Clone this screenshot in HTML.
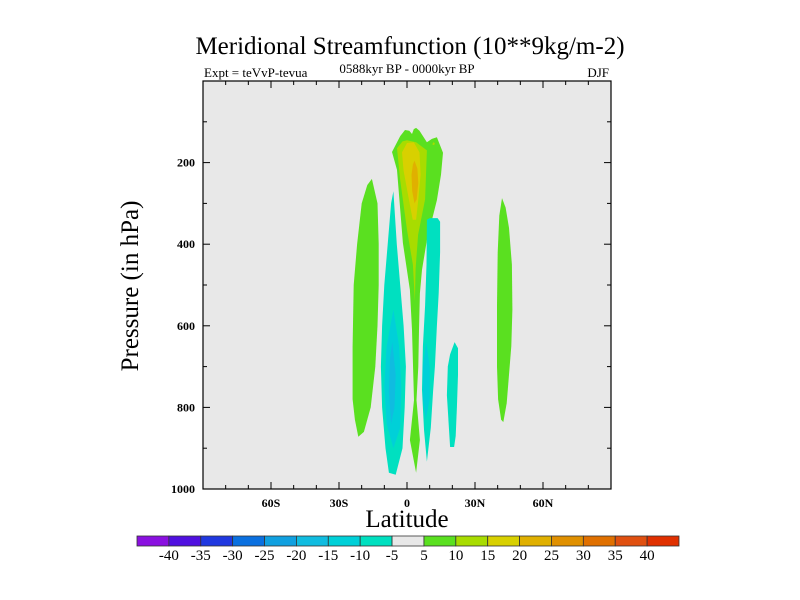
<!DOCTYPE html>
<html><head><meta charset="utf-8"><style>
body{margin:0;background:#fff;}
svg{display:block;font-family:"Liberation Serif",serif;}
</style></head><body>
<svg id="chart" width="800" height="600" viewBox="0 0 800 600" xmlns="http://www.w3.org/2000/svg">
<text x="410" y="54" text-anchor="middle" font-size="25">Meridional Streamfunction (10**9kg/m-2)</text>
<text x="204" y="77" font-size="13">Expt = teVvP-tevua</text>
<text x="407" y="73" text-anchor="middle" font-size="13">0588kyr BP - 0000kyr BP</text>
<text x="609" y="77" text-anchor="end" font-size="13">DJF</text>
<rect x="203" y="81" width="408" height="408" fill="#e8e8e8"/>
<g id="contours"></g>
<rect x="203" y="81" width="408" height="408" fill="none" stroke="#000" stroke-width="1.2"/>
<g id="axes"></g>
<text transform="translate(138,286) rotate(-90)" text-anchor="middle" font-size="25">Pressure (in hPa)</text>
<text x="407" y="527" text-anchor="middle" font-size="25">Latitude</text>
<g id="colorbar"></g>
</svg>
<script>
var levels=[-45,-40,-35,-30,-25,-20,-15,-10,-5,5,10,15,20,25,30,35,40,45];
var levelLabels=[-40,-35,-30,-25,-20,-15,-10,-5,5,10,15,20,25,30,35,40];
var levelColors=["#8a10e0","#5010e0","#2038e0","#0a70e0","#10a0e0","#10bce0","#00d0d8","#00e0c0","#e8e8e8","#5ae020","#a8dc00","#d8d000","#e0b000","#e09000","#e07000","#e05010","#e03000"];
var latTicks=[-60,-30,0,30,60];
var latTickLabels=["60S","30S","0","30N","60N"];
var presTicks=[200,400,600,800,1000];
// contour regions: value (for colour class) and outline in [lat, hPa]
var regionValues=[7,7,-7,-12,-17,7,12,17,22,-7,-12,-7,7];
var regionShapes=[
[[-15.5,240],[-13,300],[-12.5,400],[-12.5,500],[-13,600],[-14,700],[-16,800],[-19,860],[-21.5,872],[-23,830],[-24,780],[-24,650],[-23.5,500],[-22,400],[-20,300],[-17.5,255]],
[[-6.6,174],[-3,135],[-0.9,120],[1,122],[2.2,130],[3,118],[4,115],[5.5,122],[8.8,150],[11,142],[13.2,138],[15.9,176],[15,230],[13.2,292],[8.8,390],[6.6,463],[5.7,520],[5.3,610],[5,700],[4.2,782],[5.7,880],[4,960],[1.3,880],[3.1,782],[2.2,610],[1.3,512],[-1.8,397],[-4.4,218]],
[[-6,270],[-4.5,400],[-3,500],[-1.5,600],[-0.5,700],[-1,800],[-2,900],[-5,965],[-8,960],[-9.5,900],[-11,800],[-11.5,700],[-11,600],[-10,500],[-8.5,400],[-7,300]],
[[-6,560],[-3.5,650],[-2.5,750],[-3,850],[-6,900],[-9,840],[-10,750],[-9,650]],
[[-6.5,640],[-5,720],[-5.5,800],[-7,840],[-8,760],[-7.5,680]],
[[41.9,287],[43.5,310],[45,360],[46.3,450],[46.5,560],[46,650],[45,720],[44,790],[42.5,836],[41.5,830],[40.2,780],[39.7,700],[39.7,550],[40,420],[40.7,330]],
[[-4.4,165],[-2,148],[0,145],[4,150],[8.8,170],[8,290],[4.9,377],[3.8,460],[3.5,540],[2.6,450],[0,365],[-3,243]],
[[-2.2,175],[0,152],[3,150],[5.5,175],[6,230],[5,290],[4,340],[2.5,340],[0.5,280],[-1.5,220]],
[[3.3,195],[4.6,215],[5,250],[4.3,290],[3.3,300],[2.3,270],[2,230],[2.6,205]],
[[8.8,340],[10,336],[13.5,336],[14.6,345],[14.6,420],[14,520],[13.2,600],[12.3,700],[11.5,760],[10.5,850],[8.8,933],[7.5,855],[6.6,757],[7,650],[8,550],[8.6,450]],
[[8.5,640],[10,700],[10,780],[8.3,830],[7,780],[7,700]],
[[21,640],[22.5,655],[22.5,720],[22,800],[21.5,870],[20.8,897],[19,897],[18.5,850],[17.6,770],[18,700],[19,670]],
[[11.5,150],[12.3,152],[12,157],[11.2,156]]
];
var regionValuesFix=regionValues.slice(); regionValuesFix[12]=12;

var X0=203,X1=611,Y0=81,Y1=489;
function xs(lat){return X0+(lat+90)/180*(X1-X0);}
function ys(p){return Y0+p/1000*(Y1-Y0);}
function colorFor(v){for(var i=0;i<levels.length-1;i++){if(v>=levels[i]&&v<levels[i+1])return levelColors[i];}return levelColors[levelColors.length-1];}
var NS="http://www.w3.org/2000/svg";
var cg=document.getElementById('contours');
regionShapes.forEach(function(shape,i){
  var el=document.createElementNS(NS,'polygon');
  el.setAttribute('points',shape.map(function(pt){return xs(pt[0]).toFixed(1)+','+ys(pt[1]).toFixed(1);}).join(' '));
  el.setAttribute('fill',colorFor(regionValuesFix[i]));
  
  
  cg.appendChild(el);
});
var ax=document.getElementById('axes');
function line(x1,y1,x2,y2,name){var l=document.createElementNS(NS,'line');l.setAttribute('x1',x1);l.setAttribute('y1',y1);l.setAttribute('x2',x2);l.setAttribute('y2',y2);l.setAttribute('stroke','#000');l.setAttribute('stroke-width','1');


ax.appendChild(l);}
function text(x,y,s,anchor,size,name){var t=document.createElementNS(NS,'text');t.setAttribute('x',x);t.setAttribute('y',y);t.setAttribute('text-anchor',anchor);t.setAttribute('font-size',size);t.textContent=s;


ax.appendChild(t);return t;}
for(var lat=-80;lat<=80;lat+=10){var L=(lat%30===0)?7:4;line(xs(lat),Y1,xs(lat),Y1-L,'x-tick');line(xs(lat),Y0,xs(lat),Y0+L,'x-tick');}
latTicks.forEach(function(v,i){var t=text(xs(v),507,latTickLabels[i],'middle',12,'x-tick-label');t.setAttribute('font-weight','bold');});
for(var p=100;p<1000;p+=100){var L=(p%200===0)?7:4;line(X0,ys(p),X0+L,ys(p),'y-tick');line(X1,ys(p),X1-L,ys(p),'y-tick');}
presTicks.forEach(function(v){var t=text(X0-8,ys(v)+4,String(v),'end',12,'y-tick-label');t.setAttribute('font-weight','bold');});
var cb=document.getElementById('colorbar');
var CB0=137,CB1=679,CBY=536,CBH=10,bw=(CB1-CB0)/levelColors.length;
levelColors.forEach(function(c,i){var r=document.createElementNS(NS,'rect');r.setAttribute('x',CB0+i*bw);r.setAttribute('y',CBY);r.setAttribute('width',bw);r.setAttribute('height',CBH);r.setAttribute('fill',c);r.setAttribute('stroke','#333');r.setAttribute('stroke-width','0.8');


cb.appendChild(r);});
levelLabels.forEach(function(v,i){var t=document.createElementNS(NS,'text');t.setAttribute('x',CB0+(i+1)*bw);t.setAttribute('y',CBY+24);t.setAttribute('text-anchor','middle');t.setAttribute('font-size','15');t.textContent=String(v);


cb.appendChild(t);});
</script>
</body></html>
